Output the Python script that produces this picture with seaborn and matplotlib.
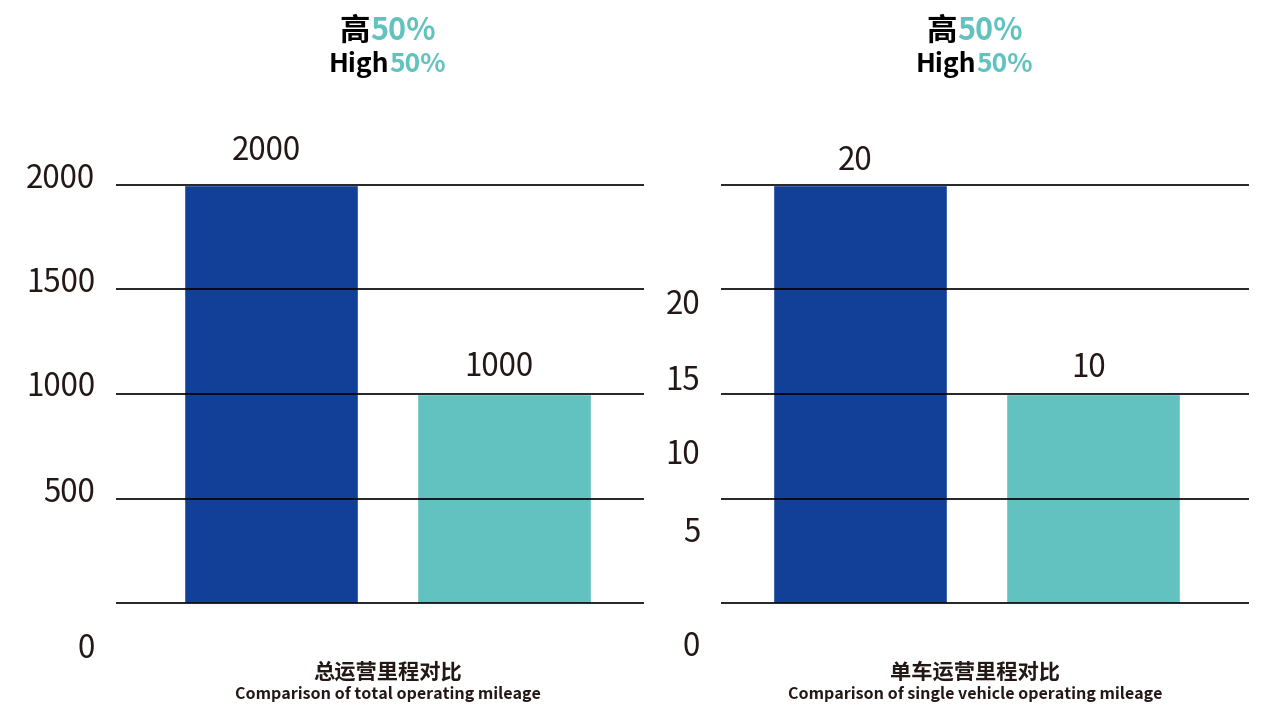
import matplotlib
matplotlib.use("Agg")
import matplotlib.pyplot as plt
import seaborn as sns
import pandas as pd

sns.set_theme(style="white")
plt.rcParams["font.family"] = ["Noto Sans CJK SC", "DejaVu Sans"]

# data
groups = ["A", "B"]
total_mileage = [2000, 1000]
single_mileage = [20, 10]
total_ticks = ["2000", "1500", "1000", "500", "0"]
single_ticks = ["20", "15", "10", "5", "0"]
headline_cn = "高"
headline_en = "High"
headline_pct = "50%"
caption_cn = ["总运营里程对比", "单车运营里程对比"]
caption_en = ["Comparison of total operating mileage",
              "Comparison of single vehicle operating mileage"]

BLUE = "#124098"
TEAL = "#62C2C0"
INK = "#231815"

fig = plt.figure(figsize=(12.75, 7.09), dpi=100)

# px -> figure fraction helpers
W, H = 1275, 709
def fx(px):
    return px / W
def fy(py):
    return 1 - py / H

panels = [
    dict(vals=total_mileage, ticks=total_ticks, step=500, top=2000,
         left=116, right=644, xlim=(-0.665, 1.601),
         tick_px=[175, 279, 384, 489, 645], label_px=[151, 367],
         cx=388, split1=370, split2=389),
    dict(vals=single_mileage, ticks=single_ticks, step=5, top=20,
         left=721, right=1249, xlim=(-0.597, 1.67),
         tick_px=[302, 377, 452, 530, 643], label_px=[161, 368],
         cx=975, split1=957, split2=976),
]

base_px, top_px = 603, 185
ax_top, ax_bot = 100, 660

for i, p in enumerate(panels):
    ax = fig.add_axes([fx(p["left"]), fy(ax_bot), fx(p["right"] - p["left"]),
                       (ax_bot - ax_top) / H])
    per_px = p["top"] / (base_px - top_px)
    ax.set_ylim(-(ax_bot - base_px) * per_px, (base_px - ax_top) * per_px)

    df = pd.DataFrame({"group": groups, "value": p["vals"]})
    sns.barplot(data=df, x="group", y="value", hue="group",
                palette=[BLUE, TEAL], width=0.745, saturation=1,
                legend=False, ax=ax, zorder=1)
    ax.set_xlim(*p["xlim"])

    # grid lines on minor ticks, labels on major ticks
    ax.set_yticks([k * p["step"] for k in range(5)], minor=True)
    ax.yaxis.grid(True, which="minor", color="black", linewidth=1.2)
    ax.yaxis.grid(False, which="major")
    ax.set_axisbelow(False)
    ax.set_yticks([(base_px - t) * per_px for t in p["tick_px"]])
    ax.set_yticklabels(p["ticks"], fontsize=22.5, color=INK)
    ax.tick_params(axis="y", which="both", length=0, pad=15)
    ax.tick_params(axis="x", length=0)
    ax.set_xticklabels([])
    ax.set_xlabel("")
    ax.set_ylabel("")
    for s in ax.spines.values():
        s.set_visible(False)

    # value labels above bars
    for j, v in enumerate(p["vals"]):
        ax.text(j - 0.02, (base_px - p["label_px"][j]) * per_px, str(v),
                ha="center", va="center", fontsize=22.5, color=INK)

    # headline
    fig.text(fx(p["split1"]), fy(31), headline_cn, ha="right",
             va="center", fontsize=22, fontweight="bold", color="black")
    fig.text(fx(p["split1"]), fy(31), headline_pct, ha="left",
             va="center", fontsize=22, fontweight="bold", color=TEAL)
    fig.text(fx(p["split2"]), fy(64), headline_en, ha="right",
             va="center", fontsize=19, fontweight="bold", color="black")
    fig.text(fx(p["split2"]), fy(64), headline_pct, ha="left",
             va="center", fontsize=19, fontweight="bold", color=TEAL)

    # caption
    fig.text(fx(p["cx"]), fy(672), caption_cn[i], ha="center", va="center",
             fontsize=15.3, fontweight="bold", color=INK)
    fig.text(fx(p["cx"]), fy(694), caption_en[i], ha="center", va="center",
             fontsize=11.5, fontweight="bold", color=INK)

fig.savefig("out.png", dpi=100)
